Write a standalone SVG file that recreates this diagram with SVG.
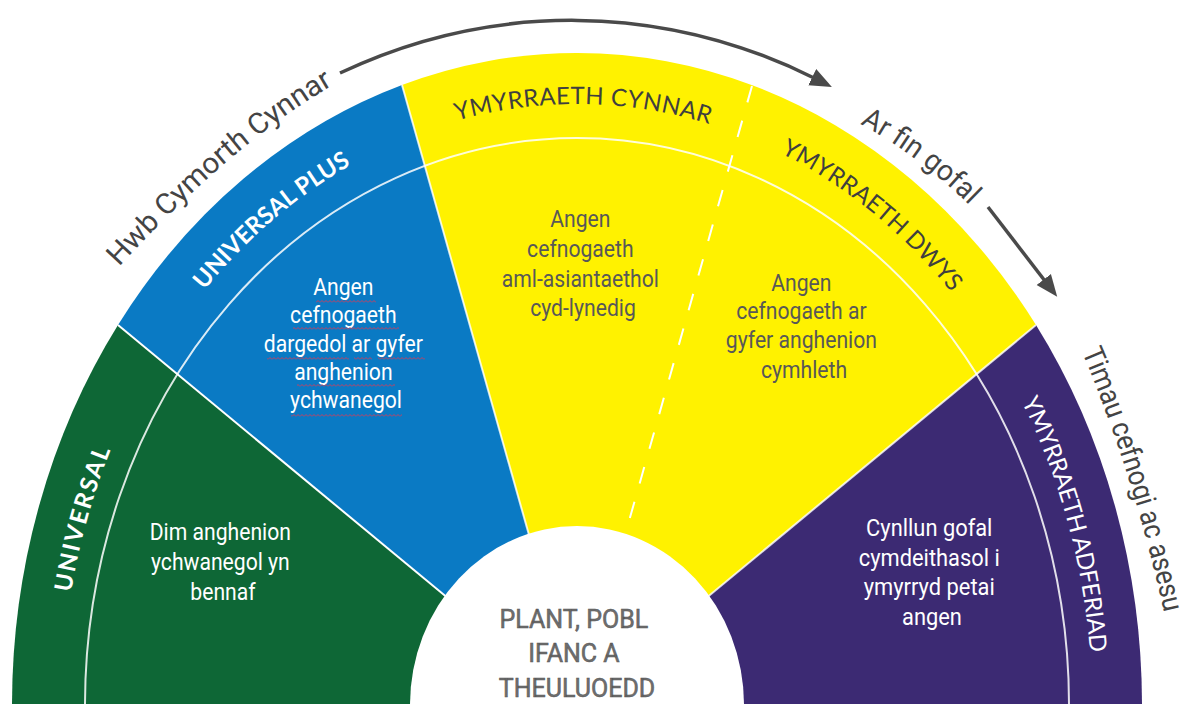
<svg xmlns="http://www.w3.org/2000/svg" xmlns:xlink="http://www.w3.org/1999/xlink" width="1181" height="704" viewBox="0 0 1181 704">
<style>
.band{font-family:Lato,"Open Sans","Liberation Sans",sans-serif;font-size:24px;fill:#3f3f3f}
.bandl{fill:#ffffff}
.bandw{font-family:Lato,"Open Sans","Liberation Sans",sans-serif;font-size:24px;font-weight:bold;fill:#ffffff}
.body{font-family:Roboto,"Liberation Sans",sans-serif;font-size:23.5px;text-anchor:middle}
.dark{fill:#585858}
.light{fill:#ffffff}
.outer{font-family:Roboto,"Liberation Sans",sans-serif;font-size:29px;fill:#444444}
.sep{stroke:#ffffff;stroke-width:2;fill:none}
.arrow{stroke:#4a4a4a;stroke-width:3.5;fill:none}
.sq{fill:url(#squiggle)}
</style>
<defs>
<marker id="ah" markerUnits="userSpaceOnUse" markerWidth="24" markerHeight="20" refX="2" refY="10" orient="auto" viewBox="0 0 24 20">
<path d="M0,1 L22,10 L0,19 Z" fill="#4a4a4a"/>
</marker>
<pattern id="squiggle" patternUnits="userSpaceOnUse" width="4" height="3">
<path d="M0,2.5 L2,0.5 L4,2.5" stroke="#c8405e" stroke-width="1" fill="none"/>
</pattern>
<path id="lblpath" d="M 62,705 A 515 601 0 0 1 1092,705"/>
<path id="hwbpath" d="M 119,267 Q 236,139 342,80"/>
<path id="arpath" d="M 860,124 Q 924,158 980,216"/>
<path id="timpath" d="M 1082,352 Q 1138,484 1170,640"/>
</defs>

<g id="seg-universal">
<path d="M 577,705 L 118,325 A 565 652 0 0 0 12,705 Z" fill="#0e6736"/>
</g>
<g id="seg-universal-plus">
<path d="M 577,705 L 402,85 A 565 652 0 0 0 118,325 Z" fill="#0a7ac4"/>
</g>
<g id="seg-ymyrraeth">
<path d="M 577,705 L 1036,325 A 565 652 0 0 0 402,85 Z" fill="#fff200"/>
</g>
<g id="seg-adferiad">
<path d="M 577,705 L 1142,705 A 565 652 0 0 0 1036,325 Z" fill="#3c2a73"/>
</g>

<g id="separators">
<line class="sep" x1="577" y1="705" x2="118" y2="325"/>
<line class="sep" x1="577" y1="705" x2="402" y2="85" stroke-opacity="0.8"/>
<line class="sep" x1="577" y1="705" x2="1036" y2="325" stroke-opacity="0.8"/>
<line class="sep" x1="752" y1="86" x2="577" y2="705" stroke-width="2.5" stroke-dasharray="17 19"/>
<ellipse class="sep" cx="577" cy="705" rx="492" ry="567" stroke-opacity="0.85"/>
</g>

<g id="center">
<ellipse cx="577" cy="705" rx="167" ry="179" fill="#ffffff"/>
<text class="body" style="font-size:25px;fill:#6e6e6e;stroke:#555;stroke-width:0.5">
<tspan x="577" y="628">PLANT, POBL</tspan>
<tspan x="577" y="662">IFANC A</tspan>
<tspan x="577" y="697">THEULUOEDD</tspan>
</text>
</g>

<g id="labels-band">
<text class="bandw"><textPath xlink:href="#lblpath" href="#lblpath" startOffset="187" text-anchor="middle" textLength="148">UNIVERSAL</textPath></text>
<text class="bandw"><textPath xlink:href="#lblpath" href="#lblpath" startOffset="544" text-anchor="middle" textLength="194">UNIVERSAL PLUS</textPath></text>
<text class="band"><textPath xlink:href="#lblpath" href="#lblpath" startOffset="884" text-anchor="middle" textLength="256">YMYRRAETH CYNNAR</textPath></text>
<text class="band"><textPath xlink:href="#lblpath" href="#lblpath" startOffset="1200" text-anchor="middle" textLength="222">YMYRRAETH DWYS</textPath></text>
<text class="band bandl"><textPath xlink:href="#lblpath" href="#lblpath" startOffset="1572" text-anchor="middle" textLength="262">YMYRRAETH ADFERIAD</textPath></text>
</g>

<g id="body-universal" transform="translate(223,0) scale(0.9,1) translate(-223,0)">
<text class="body light">
<tspan x="223" y="540">Dim anghenion</tspan>
<tspan x="223" y="570">ychwanegol yn</tspan>
<tspan x="223" y="600">bennaf</tspan>
</text>
</g>
<g id="body-universal-plus">
<g transform="translate(346,0) scale(0.9,1) translate(-346,0)">
<text class="body light">
<tspan x="346" y="295">Angen</tspan>
<tspan x="346" y="323.5">cefnogaeth</tspan>
<tspan x="346" y="352">dargedol ar gyfer</tspan>
<tspan x="346" y="380">anghenion</tspan>
<tspan x="346" y="408">ychwanegol</tspan>
</text>
</g>
<rect class="sq" x="316" y="300" width="60" height="3"/>
<rect class="sq" x="293" y="327" width="106" height="3"/>
<rect class="sq" x="267" y="357" width="82" height="3"/>
<rect class="sq" x="354" y="357" width="18" height="3"/>
<rect class="sq" x="378" y="357" width="47" height="3"/>
<rect class="sq" x="297" y="384" width="98" height="3"/>
<rect class="sq" x="291" y="414" width="111" height="3"/>
</g>
<g id="body-cynnar" transform="translate(583,0) scale(0.9,1) translate(-583,0)">
<text class="body dark">
<tspan x="583" y="227">Angen</tspan>
<tspan x="583" y="257">cefnogaeth</tspan>
<tspan x="583" y="287">aml-asiantaethol</tspan>
<tspan x="583" y="316.5">cyd-lynedig</tspan>
</text>
</g>
<g id="body-dwys" transform="translate(804,0) scale(0.9,1) translate(-804,0)">
<text class="body dark">
<tspan x="804" y="291">Angen</tspan>
<tspan x="804" y="319">cefnogaeth ar</tspan>
<tspan x="804" y="348.5">gyfer anghenion</tspan>
<tspan x="804" y="378">cymhleth</tspan>
</text>
</g>
<g id="body-adferiad" transform="translate(932,0) scale(0.93,1) translate(-932,0)">
<text class="body light">
<tspan x="932" y="536">Cynllun gofal</tspan>
<tspan x="932" y="566">cymdeithasol i</tspan>
<tspan x="932" y="595.5">ymyrryd petai</tspan>
<tspan x="932" y="625">angen</tspan>
</text>
</g>

<g id="outer-labels">
<text class="outer"><textPath xlink:href="#hwbpath" href="#hwbpath" textLength="282" lengthAdjust="spacingAndGlyphs">Hwb Cymorth Cynnar</textPath></text>
<text class="outer"><textPath xlink:href="#arpath" href="#arpath" textLength="137" lengthAdjust="spacingAndGlyphs">Ar fin gofal</textPath></text>
<text class="outer"><textPath xlink:href="#timpath" href="#timpath" textLength="274" lengthAdjust="spacingAndGlyphs">Timau cefnogi ac asesu</textPath></text>
</g>

<g id="connectors">
<path class="arrow" d="M 340,73 A 604 687 0 0 1 814,78" marker-end="url(#ah)"/>
<path class="arrow" d="M 988,207 L 1045,281" marker-end="url(#ah)"/>
</g>
</svg>
